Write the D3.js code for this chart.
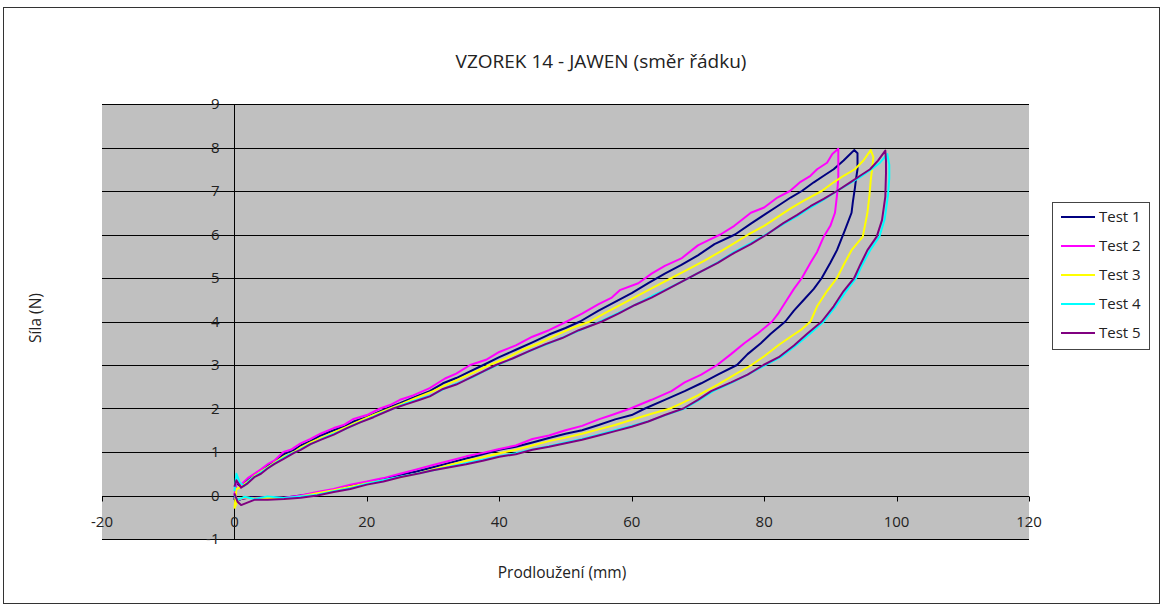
<!DOCTYPE html>
<html>
<head>
<meta charset="utf-8">
<script src="https://cdn.jsdelivr.net/npm/d3@7"></script>
<style>
  body { margin: 0; background: #fff; }
  svg text { font-family: "Open Sans", "Noto Sans", sans-serif; fill: #222; }
</style>
</head>
<body>
<div id="container"></div>
<script>
const width = 1164;
const height = 608;

const seriesNames = ["Test 1", "Test 2", "Test 3", "Test 4", "Test 5"];
const colors = ["#000080", "#ff00ff", "#ffff00", "#00ffff", "#800080"];
const xTicks = [-20, 0, 20, 40, 60, 80, 100, 120];
const yTicks = [-1, 0, 1, 2, 3, 4, 5, 6, 7, 8, 9];

// [prodlouzeni mm, sila N] - loading then unloading
const test1 = [[0,-0.1],[0.2,0.3],[1,0.2],[2,0.35],[3,0.48],[4,0.58],[5,0.68],[6,0.78],[7.5,0.95],[9,1.05],[10,1.15],[11.5,1.25],[13,1.38],[15,1.5],[16.5,1.58],[18,1.7],[20,1.8],[23,2.0],[25,2.12],[27,2.25],[29.5,2.4],[31.5,2.58],[33.5,2.7],[35.5,2.85],[37.6,3.0],[40,3.18],[42.5,3.35],[45,3.52],[47.5,3.7],[50,3.85],[52.2,4.0],[55,4.25],[57.5,4.45],[60,4.65],[62.5,4.88],[65,5.1],[67.5,5.3],[70,5.52],[72.5,5.78],[75.6,6.0],[78,6.25],[80,6.45],[82,6.65],[84,6.85],[85.7,7.0],[87.5,7.2],[89,7.35],[90.5,7.5],[92,7.7],[93,7.85],[93.6,7.94],
  [94.1,7.87],[94.1,7.5],[93.9,7.3],[93.7,7.06],[93.4,6.75],[93.2,6.5],[92.2,6.1],[91,5.64],[90,5.35],[88.7,5.0],[87.5,4.75],[86,4.5],[84.5,4.25],[83.2,4.0],[81,3.72],[79.5,3.5],[77.5,3.25],[75.9,3.0],[73,2.78],[70.5,2.58],[68,2.4],[65,2.2],[62,2.0],[60,1.85],[57.5,1.75],[55,1.62],[52.5,1.5],[50,1.42],[47.5,1.32],[45,1.22],[42.5,1.12],[40,1.05],[37.5,0.95],[35,0.85],[32.5,0.75],[30,0.65],[27.5,0.55],[25,0.47],[22.5,0.38],[20,0.3],[17.5,0.22],[15,0.12],[12.5,0.05],[10,0.0],[7.5,-0.05],[5,-0.06],[2.5,-0.04],[1,-0.08],[0,-0.15]];

const test2 = [[0,0],[0.3,0.3],[1,0.25],[2,0.4],[3,0.5],[4,0.6],[5,0.72],[6,0.8],[7.4,1.0],[8.5,1.05],[10,1.2],[11.5,1.3],[13,1.42],[15,1.55],[16.5,1.62],[18,1.76],[20,1.85],[22,2.0],[23.5,2.08],[25,2.2],[27,2.3],[29.5,2.47],[31.8,2.69],[33.5,2.8],[35.6,3.0],[38,3.12],[40,3.3],[42.5,3.45],[45,3.65],[47.5,3.8],[50.2,4.0],[52.5,4.18],[55,4.4],[57,4.55],[58.2,4.72],[61,4.88],[63,5.1],[65,5.28],[67.5,5.45],[70,5.75],[72,5.9],[73.4,6.0],[75.5,6.2],[78,6.5],[80,6.62],[82,6.85],[83.9,7.0],[85.5,7.21],[87,7.35],[88,7.5],[89.5,7.65],[90.3,7.85],[91.2,7.97],
  [91.2,7.6],[91.2,7.3],[91,6.9],[90.7,6.5],[90,6.2],[89,5.95],[88,5.6],[87,5.35],[85.7,5.0],[84.5,4.75],[83.4,4.49],[82.2,4.2],[81.2,4.0],[79,3.72],[77,3.5],[75,3.25],[72.9,3.0],[70.5,2.78],[68,2.6],[66,2.4],[63,2.2],[59.8,2.0],[57,1.85],[55,1.75],[52.5,1.6],[50,1.5],[47.5,1.38],[45,1.3],[42.5,1.15],[40,1.07],[37.5,0.98],[35,0.9],[32.5,0.8],[30,0.7],[27.5,0.6],[25,0.5],[22.5,0.4],[20,0.32],[17.5,0.25],[15,0.15],[12.5,0.08],[10,0.0],[7.5,-0.05],[5,-0.04],[3,-0.06],[1.5,-0.05],[0.5,-0.1],[0,-0.05]];

const test3 = [[0,-0.3],[0.3,0.15],[1,0.2],[2,0.32],[3,0.45],[4,0.55],[5,0.65],[6,0.75],[7.5,0.9],[9,1.0],[10,1.1],[11.5,1.22],[13,1.32],[15,1.45],[17,1.58],[19,1.72],[21,1.85],[23.5,2.0],[25.5,2.12],[27.5,2.25],[30,2.4],[32,2.55],[34,2.68],[36,2.82],[38.5,3.0],[41,3.15],[43.5,3.35],[46,3.5],[48.5,3.68],[51,3.85],[53.7,4.0],[56,4.2],[58.5,4.4],[61,4.6],[63.5,4.8],[66,5.0],[68.5,5.2],[71,5.4],[73.5,5.62],[75.5,5.8],[77.6,6.0],[80,6.2],[82,6.4],[84,6.6],[86,6.78],[88.7,7.0],[90.5,7.2],[92,7.35],[93.7,7.5],[95,7.7],[96.1,7.94],
  [96.5,7.78],[96.3,7.5],[96.1,7.25],[95.9,6.9],[95.6,6.5],[94.9,5.95],[93.2,5.64],[92,5.3],[91,5.0],[89.5,4.7],[88,4.35],[87,4.0],[85.5,3.8],[84,3.65],[82.2,3.46],[80,3.2],[78.1,3.0],[76,2.82],[73,2.55],[70,2.3],[67.5,2.12],[65.8,2.0],[63,1.88],[60,1.74],[57.5,1.62],[55,1.52],[52.5,1.42],[50,1.33],[47.5,1.25],[45,1.15],[42.5,1.05],[40,0.97],[37.5,0.88],[35,0.8],[32.5,0.7],[30,0.6],[27.5,0.5],[25,0.42],[22.5,0.35],[20,0.28],[17.5,0.2],[15,0.12],[12.5,0.05],[10,-0.02],[7.5,-0.08],[5,-0.05],[3,-0.07],[1.5,-0.04],[0.5,-0.1],[0,-0.3]];

const test4 = [[0,0.1],[0.3,0.5],[0.8,0.3],[1.5,0.22],[2.5,0.38],[3.5,0.48],[5,0.63],[6.5,0.78],[8,0.92],[9.5,1.02],[11,1.15],[12.5,1.25],[14,1.36],[16,1.48],[18,1.62],[20,1.75],[22,1.88],[24,2.0],[26,2.12],[28,2.22],[30,2.32],[32,2.48],[34,2.6],[36,2.72],[38,2.88],[40,3.02],[42.5,3.18],[45,3.35],[47.5,3.5],[50,3.66],[52.5,3.82],[55.5,4.02],[58,4.2],[60.5,4.38],[63,4.58],[65.5,4.76],[68,4.95],[70.5,5.15],[73,5.36],[75.5,5.6],[78,5.8],[80.5,6.02],[83,6.25],[85,6.42],[87,6.62],[89,6.8],[91,7.0],[93,7.18],[94.5,7.32],[96,7.48],[97.5,7.65],[98.6,7.85],
  [98.9,7.6],[98.9,7.3],[98.7,6.9],[98.2,6.35],[97.4,5.95],[96,5.64],[94.8,5.3],[93.9,5.0],[92.3,4.68],[90.8,4.35],[89,4.0],[86.8,3.7],[84.8,3.45],[82.5,3.18],[80.2,3.0],[77.8,2.8],[75.2,2.6],[72.3,2.4],[70.2,2.2],[68,2.0],[65.3,1.86],[62.8,1.72],[60,1.6],[57.5,1.5],[55,1.4],[52.5,1.3],[50,1.22],[47.5,1.13],[45,1.06],[42.5,0.97],[40,0.9],[37.5,0.82],[35,0.74],[32.5,0.66],[30,0.58],[27.5,0.5],[25,0.43],[22.5,0.35],[20,0.27],[17.5,0.17],[15,0.1],[12.5,0.02],[10,-0.02],[7.5,-0.06],[5,-0.02],[3,-0.08],[1.5,-0.03],[0.5,-0.1],[0,0]];

const test5 = [[0,0.2],[0.3,0.35],[1,0.18],[2,0.28],[3,0.42],[4,0.5],[5,0.62],[6,0.72],[7.5,0.85],[9,0.98],[10,1.05],[11.5,1.18],[13,1.28],[15,1.4],[17,1.55],[19,1.68],[21,1.8],[24,2.0],[26,2.1],[28,2.2],[29.5,2.28],[31.5,2.45],[33.5,2.55],[35.5,2.7],[37.5,2.85],[39.5,3.0],[42,3.15],[44.5,3.32],[47,3.48],[49.5,3.62],[52,3.8],[55.5,4.0],[58,4.18],[60.5,4.38],[63,4.55],[65.5,4.75],[68,4.95],[70.5,5.15],[73,5.35],[75.5,5.58],[78,5.78],[80.4,6.0],[82.9,6.26],[85,6.45],[87,6.65],[89,6.82],[91,7.0],[93,7.2],[94.5,7.35],[96,7.5],[97.2,7.7],[98.3,7.93],
  [98.4,7.7],[98.4,7.4],[98.3,6.87],[97.8,6.33],[97,5.95],[95.6,5.64],[94.5,5.3],[93.6,5.0],[92,4.7],[90.5,4.35],[88.7,4.0],[86.5,3.72],[84.5,3.45],[82.2,3.18],[79.9,3.0],[77.5,2.78],[75,2.6],[72,2.4],[70,2.2],[67.8,2.0],[65,1.85],[62.5,1.7],[60,1.58],[57.5,1.48],[55,1.38],[52.5,1.28],[50,1.2],[47.5,1.12],[45,1.05],[42.5,0.95],[40,0.89],[37.5,0.8],[35,0.72],[32.5,0.65],[30,0.58],[28,0.51],[25,0.42],[22.5,0.32],[20,0.25],[17.5,0.15],[15,0.08],[12.5,0.0],[10,-0.05],[7.5,-0.08],[5,-0.1],[3,-0.1],[1,-0.22],[0.5,-0.15],[0,0.05]];

const allTests = [test1, test2, test3, test4, test5];

const plot = { left: 102, right: 1029, top: 104, bottom: 539 };

const svg = d3.select("#container")
    .append("svg")
    .attr("width", width)
    .attr("height", height);

// chart border
svg.append("rect")
    .attr("x", 3.5).attr("y", 7.5)
    .attr("width", 1156).attr("height", 596)
    .attr("fill", "#fff")
    .attr("stroke", "#333");

const x = d3.scaleLinear().domain([-20, 120]).range([plot.left, plot.right]);
const y = d3.scaleLinear().domain([-1, 9]).range([plot.bottom, plot.top]);

svg.append("rect")
    .attr("x", plot.left).attr("y", plot.top)
    .attr("width", plot.right - plot.left).attr("height", plot.bottom - plot.top)
    .attr("fill", "#c0c0c0");

// gridlines
svg.append("g")
    .selectAll("line")
    .data(yTicks)
    .enter()
    .append("line")
    .attr("x1", plot.left).attr("x2", plot.right)
    .attr("y1", (d) => Math.round(y(d)) + 0.5)
    .attr("y2", (d) => Math.round(y(d)) + 0.5)
    .attr("stroke", "#000")
    .attr("stroke-width", 1);

// axes crossing at zero
const x0 = Math.round(x(0)) + 0.5;
const y0 = Math.round(y(0)) + 0.5;
svg.append("line")
    .attr("x1", x0).attr("x2", x0)
    .attr("y1", plot.top).attr("y2", plot.bottom)
    .attr("stroke", "#000");
svg.append("g")
    .selectAll("line")
    .data(xTicks)
    .enter()
    .append("line")
    .attr("x1", (d) => Math.round(x(d)) + 0.5)
    .attr("x2", (d) => Math.round(x(d)) + 0.5)
    .attr("y1", y0).attr("y2", y0 + 5)
    .attr("stroke", "#000");
svg.append("g")
    .selectAll("line")
    .data(yTicks)
    .enter()
    .append("line")
    .attr("x1", x0 - 5).attr("x2", x0)
    .attr("y1", (d) => Math.round(y(d)) + 0.5)
    .attr("y2", (d) => Math.round(y(d)) + 0.5)
    .attr("stroke", "#000");

// tick labels
svg.append("g")
    .selectAll("text")
    .data(xTicks)
    .enter()
    .append("text")
    .attr("x", (d) => x(d))
    .attr("y", y0 + 30)
    .attr("text-anchor", "middle")
    .style("font-size", "15px")
    .text((d) => d);
svg.append("g")
    .selectAll("text")
    .data(yTicks)
    .enter()
    .append("text")
    .attr("x", x0 - 15)
    .attr("y", (d) => y(d) + 5)
    .attr("text-anchor", "end")
    .style("font-size", "15px")
    .text((d) => d);

// series
const line = d3.line()
    .x((d) => x(d[0]))
    .y((d) => y(d[1]));
svg.append("g")
    .selectAll("path")
    .data(allTests)
    .enter()
    .append("path")
    .attr("d", line)
    .attr("fill", "none")
    .attr("stroke", (d, i) => colors[i])
    .attr("stroke-width", 2)
    .attr("stroke-linejoin", "round");

// titles
svg.append("text")
    .attr("x", 601).attr("y", 68)
    .attr("text-anchor", "middle")
    .style("font-size", "19px")
    .text("VZOREK 14 - JAWEN (směr řádku)");
svg.append("text")
    .attr("x", 562).attr("y", 578)
    .attr("text-anchor", "middle")
    .style("font-size", "15.5px")
    .text("Prodloužení (mm)");
svg.append("text")
    .attr("transform", "translate(41,318) rotate(-90)")
    .attr("text-anchor", "middle")
    .style("font-size", "15.5px")
    .text("Síla (N)");

// legend
const legend = svg.append("g");
legend.append("rect")
    .attr("x", 1052.5).attr("y", 202.5)
    .attr("width", 97).attr("height", 147)
    .attr("fill", "#fff")
    .attr("stroke", "#444");
seriesNames.forEach((name, i) => {
    const ly = 217 + i * 29;
    legend.append("line")
        .attr("x1", 1061).attr("x2", 1095)
        .attr("y1", ly).attr("y2", ly)
        .attr("stroke", colors[i])
        .attr("stroke-width", 2);
    legend.append("text")
        .attr("x", 1099).attr("y", ly + 5)
        .style("font-size", "15px")
        .text(name);
});
</script>
</body>
</html>
